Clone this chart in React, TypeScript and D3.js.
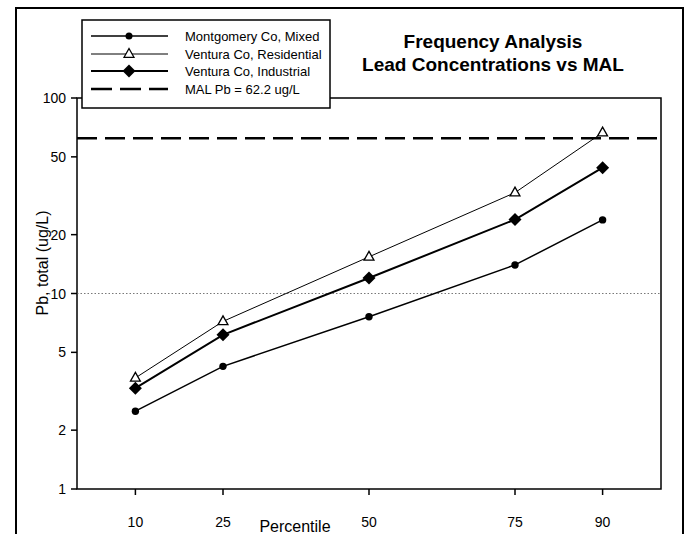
import React from "react";
import * as d3 from "d3";

const percentiles = [10, 25, 50, 75, 90];
const montgomery = [2.5, 4.24, 7.6, 14.0, 23.8];
const venturaRes = [3.7, 7.2, 15.4, 32.8, 66.5];
const venturaInd = [3.28, 6.15, 12.0, 23.9, 44.0];
const malValue = 62.2;
const yTicks = [1, 2, 5, 10, 20, 50, 100];
const xTicks = [10, 25, 50, 75, 90];
const legendLabels = [
  "Montgomery Co, Mixed",
  "Ventura Co, Residential",
  "Ventura Co, Industrial",
  "MAL Pb = 62.2 ug/L",
];

const W = 685;
const H = 534;
const left = 77, right = 661, top = 98, bottom = 489;

export default function App() {
  const x = d3.scaleLinear().domain([0, 100]).range([left, right]);
  const y = d3.scaleLog().domain([1, 100]).range([bottom, top]);
  const line = d3
    .line<number>()
    .x((_, i) => x(percentiles[i]))
    .y((d) => y(d));
  const font = "Liberation Sans, Arial, sans-serif";
  const diamond = (cx: number, cy: number, r: number) =>
    `M${cx},${cy - r}L${cx + r},${cy}L${cx},${cy + r}L${cx - r},${cy}Z`;
  const tri = (cx: number, cy: number, r: number) =>
    `M${cx},${cy - r}L${cx + r * 0.9},${cy + r * 0.6}L${cx - r * 0.9},${cy + r * 0.6}Z`;

  const legendRows = [36, 54, 71, 89];
  const lx0 = 91, lx1 = 168, lmx = 129, ltx = 185;

  return (
    <svg
      width={W}
      height={H}
      style={{ position: "absolute", left: 0, top: 0, background: "#fff" }}
      fontFamily={font}
    >
      <rect x={0} y={0} width={W} height={H} fill="#fff" />
      {/* outer frame */}
      <path d={`M16,${H + 5}V8H683V${H + 5}`} fill="none" stroke="#000" strokeWidth={2} />
      {/* plot frame */}
      <rect x={left} y={top} width={right - left} height={bottom - top} fill="none" stroke="#000" strokeWidth={1.5} />
      {/* grid at 10 */}
      <line x1={left} x2={right} y1={y(10)} y2={y(10)} stroke="#555" strokeWidth={0.8} strokeDasharray="1.5,2" />
      {/* MAL line */}
      <line x1={left} x2={right} y1={y(malValue)} y2={y(malValue)} stroke="#000" strokeWidth={2.5} strokeDasharray="20,8" />
      {/* y ticks */}
      {yTicks.map((t) => (
        <g key={t}>
          <line x1={left - 6} x2={left} y1={y(t)} y2={y(t)} stroke="#000" strokeWidth={1.5} />
          <text x={left - 11} y={y(t)} dy="0.36em" textAnchor="end" fontSize={14}>
            {t}
          </text>
        </g>
      ))}
      {/* x ticks */}
      {xTicks.map((t) => (
        <g key={t}>
          <line x1={x(t)} x2={x(t)} y1={bottom} y2={bottom + 6} stroke="#000" strokeWidth={1.5} />
          <text x={x(t)} y={bottom + 38} textAnchor="middle" fontSize={14}>
            {t}
          </text>
        </g>
      ))}
      <text x={295} y={H - 2} textAnchor="middle" fontSize={16}>
        Percentile
      </text>
      <text transform={`translate(48,263) rotate(-90)`} textAnchor="middle" fontSize={16}>
        Pb, total (ug/L)
      </text>
      {/* series */}
      <path d={line(montgomery) || ""} fill="none" stroke="#000" strokeWidth={1.5} />
      <path d={line(venturaRes) || ""} fill="none" stroke="#000" strokeWidth={1} />
      <path d={line(venturaInd) || ""} fill="none" stroke="#000" strokeWidth={2} />
      {montgomery.map((v, i) => (
        <circle key={"m" + i} cx={x(percentiles[i])} cy={y(v)} r={3.7} fill="#000" />
      ))}
      {venturaRes.map((v, i) => (
        <path key={"r" + i} d={tri(x(percentiles[i]), y(v), 5.5)} fill="#fff" stroke="#000" strokeWidth={1.3} />
      ))}
      {venturaInd.map((v, i) => (
        <path key={"i" + i} d={diamond(x(percentiles[i]), y(v), 6.5)} fill="#000" />
      ))}
      {/* legend */}
      <rect x={82} y={20} width={248} height={88} fill="#fff" stroke="#000" strokeWidth={1.5} />
      <line x1={lx0} x2={lx1} y1={legendRows[0]} y2={legendRows[0]} stroke="#000" strokeWidth={1.5} />
      <circle cx={lmx} cy={legendRows[0]} r={3.5} fill="#000" />
      <line x1={lx0} x2={lx1} y1={legendRows[1]} y2={legendRows[1]} stroke="#000" strokeWidth={1} />
      <path d={tri(lmx, legendRows[1], 5.5)} fill="#fff" stroke="#000" strokeWidth={1.3} />
      <line x1={lx0} x2={lx1} y1={legendRows[2]} y2={legendRows[2]} stroke="#000" strokeWidth={2} />
      <path d={diamond(lmx, legendRows[2], 6.5)} fill="#000" />
      <line x1={lx0} x2={lx1} y1={legendRows[3]} y2={legendRows[3]} stroke="#000" strokeWidth={2.5} strokeDasharray="21,8" />
      {legendLabels.map((l, i) => (
        <text key={l} x={ltx} y={legendRows[i]} dy="0.36em" fontSize={13}>
          {l}
        </text>
      ))}
      {/* title */}
      <text x={493} y={48} textAnchor="middle" fontSize={19} fontWeight="bold">
        Frequency Analysis
      </text>
      <text x={493} y={71} textAnchor="middle" fontSize={19} fontWeight="bold">
        Lead Concentrations vs MAL
      </text>
    </svg>
  );
}
